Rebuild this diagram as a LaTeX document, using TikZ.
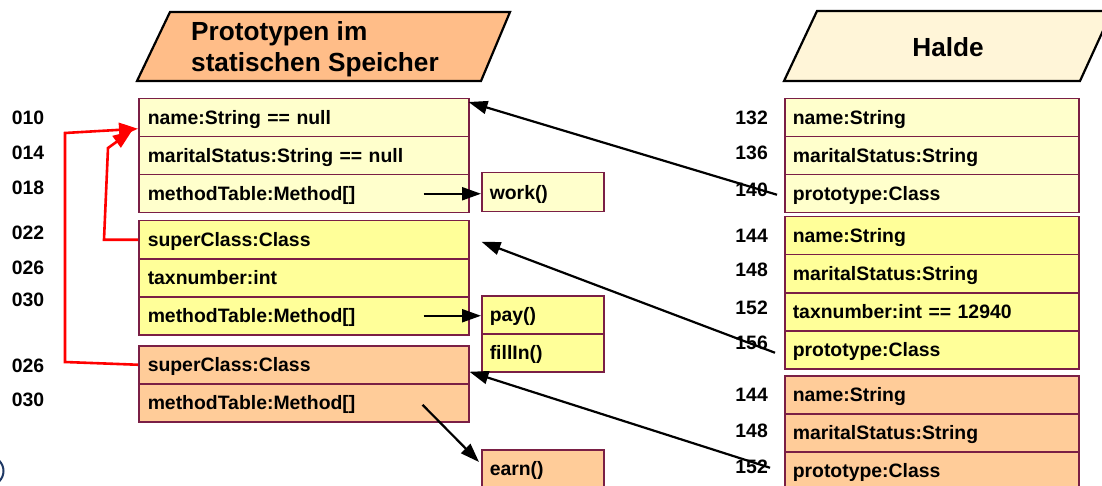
\documentclass[tikz,border=0pt]{standalone}
\usepackage{fontspec}
\setmainfont{Liberation Sans}
\usetikzlibrary{arrows.meta}
\definecolor{boxc}{HTML}{7A1F45}
\definecolor{ly}{HTML}{FFFFCC}
\definecolor{yy}{HTML}{FFFF99}
\definecolor{oo}{HTML}{FFCC99}
\definecolor{hdro}{HTML}{FFBD88}
\definecolor{hdrh}{HTML}{FFF5D8}
\definecolor{logo}{HTML}{1F3864}
\newcommand{\txtf}{\bfseries\fontsize{19.4}{22}\selectfont}
\newcommand{\hdrf}{\bfseries\fontsize{26.2}{31}\selectfont}
\tikzset{
  rowL/.style={draw=boxc, line width=1.5pt, anchor=north west, minimum height=38pt,
    text width=312pt, inner xsep=9pt, inner ysep=0pt, align=left, font=\txtf,
    text height=14pt, text depth=0pt},
  rowR/.style={rowL, text width=278pt, inner xsep=8pt},
  meth/.style={rowL, text width=106pt, inner xsep=8pt},
  addr/.style={font=\txtf, inner sep=0pt},
  arr/.style={line width=2.2pt, -{Triangle[length=19pt,width=13pt]}},
  redarr/.style={draw=red, line width=2.6pt, -{Triangle[length=19pt,width=14pt]}, line join=miter},
  hdr/.style={draw=black, line width=2.2pt, line join=miter}
}
\begin{document}
\begin{tikzpicture}[x=1pt,y=-1pt]
\useasboundingbox (0,0) rectangle (1102,486);
\clip (0,0) rectangle (1102,486);
% logo fragment
\draw[logo, line width=2pt] (-11,471) circle (14.5);
% headers
\draw[hdr, fill=hdro] (170,12) -- (510,12) -- (481,81) -- (137,81) -- cycle;
\node[font=\hdrf, anchor=west, align=left, inner sep=0pt] (th1) at (191,49) {Prototypen im\\statischen Speicher};
\draw[hdr, fill=hdrh] (817,11) -- (1112,11) -- (1080,81) -- (784,81) -- cycle;
\node[font=\hdrf, inner sep=0pt] (th2) at (948,47) {Halde};
% left column
\node[rowL, fill=ly] (a1) at (138,98) {name:String == null};
\node[rowL, fill=ly] (a2) at (138,136) {maritalStatus:String == null};
\node[rowL, fill=ly] (a3) at (138,174) {methodTable:Method[]};
\node[rowL, fill=yy] (b1) at (138,220) {superClass:Class};
\node[rowL, fill=yy] (b2) at (138,258) {taxnumber:int};
\node[rowL, fill=yy] (b3) at (138,296) {methodTable:Method[]};
\node[rowL, fill=oo] (c1) at (138,345) {superClass:Class};
\node[rowL, fill=oo] (c2) at (138,383) {methodTable:Method[]};
% method boxes
\node[meth, fill=ly, minimum height=39pt] (work) at (481,172) {work()};
\node[meth, fill=yy] (pay) at (481,295) {pay()};
\node[meth, fill=yy] (fill) at (481,333) {fillIn()};
\node[meth, fill=oo] (earn) at (481,449) {earn()};
% right column
\node[rowR, fill=ly] (h1) at (784,98) {name:String};
\node[rowR, fill=ly] (h2) at (784,136) {maritalStatus:String};
\node[rowR, fill=ly] (h3) at (784,174) {prototype:Class};
\node[rowR, fill=yy] (h4) at (784,216) {name:String};
\node[rowR, fill=yy] (h5) at (784,254) {maritalStatus:String};
\node[rowR, fill=yy] (h6) at (784,292) {taxnumber:int == 12940};
\node[rowR, fill=yy] (h7) at (784,330) {prototype:Class};
\node[rowR, fill=oo] (h8) at (784,375) {name:String};
\node[rowR, fill=oo] (h9) at (784,413) {maritalStatus:String};
\node[rowR, fill=oo] (h10) at (784,451) {prototype:Class};
% address labels left
\node[addr] (l1) at (28,118) {010};
\node[addr] (l2) at (28,153) {014};
\node[addr] (l3) at (28,188) {018};
\node[addr] (l4) at (28,233) {022};
\node[addr] (l5) at (28,268) {026};
\node[addr] (l6) at (28,300) {030};
\node[addr] (l7) at (28,366) {026};
\node[addr] (l8) at (28,400) {030};
% address labels right
\node[addr, anchor=east] (r1) at (768,118) {132};
\node[addr, anchor=east] (r2) at (768,153) {136};
\node[addr, anchor=east] (r3) at (768,190) {140};
\node[addr, anchor=east] (r4) at (768,236) {144};
\node[addr, anchor=east] (r5) at (768,270) {148};
\node[addr, anchor=east] (r6) at (768,308) {152};
\node[addr, anchor=east] (r7) at (768,343) {156};
\node[addr, anchor=east] (r8) at (768,395) {144};
\node[addr, anchor=east] (r9) at (768,431) {148};
\node[addr, anchor=east] (r10) at (768,467) {152};
% method table arrows
\draw[arr] ([xshift=-46pt]a3.east) -- (a3.east -| work.west);
\draw[arr] ([xshift=-46pt]b3.east) -- (b3.east -| pay.west);
\draw[arr] ([xshift=-47pt,yshift=-2pt]c2.east) -- ([xshift=-2pt,yshift=-13pt]earn.north west);
% prototype arrows
\draw[arr] ([xshift=-7pt,yshift=-1pt]h3.west) -- ([xshift=-1pt,yshift=-4pt]a1.north east);
\draw[arr] ([xshift=-9pt,yshift=-3pt]h7.west) -- ([xshift=12pt,yshift=-2pt]b1.east);
\draw[arr] ([xshift=-14pt,yshift=3pt]h10.west) -- ([yshift=-7pt]c1.east);
% superclass arrows
\draw[redarr] (b1.west) -- ++(-34,0) -- (108,148) -- ([xshift=-6pt,yshift=-13pt]a1.west);
\draw[redarr] (c1.west) -- (65,362) -- (65,133) -- ([yshift=-11pt]a1.west);
\end{tikzpicture}
\end{document}
